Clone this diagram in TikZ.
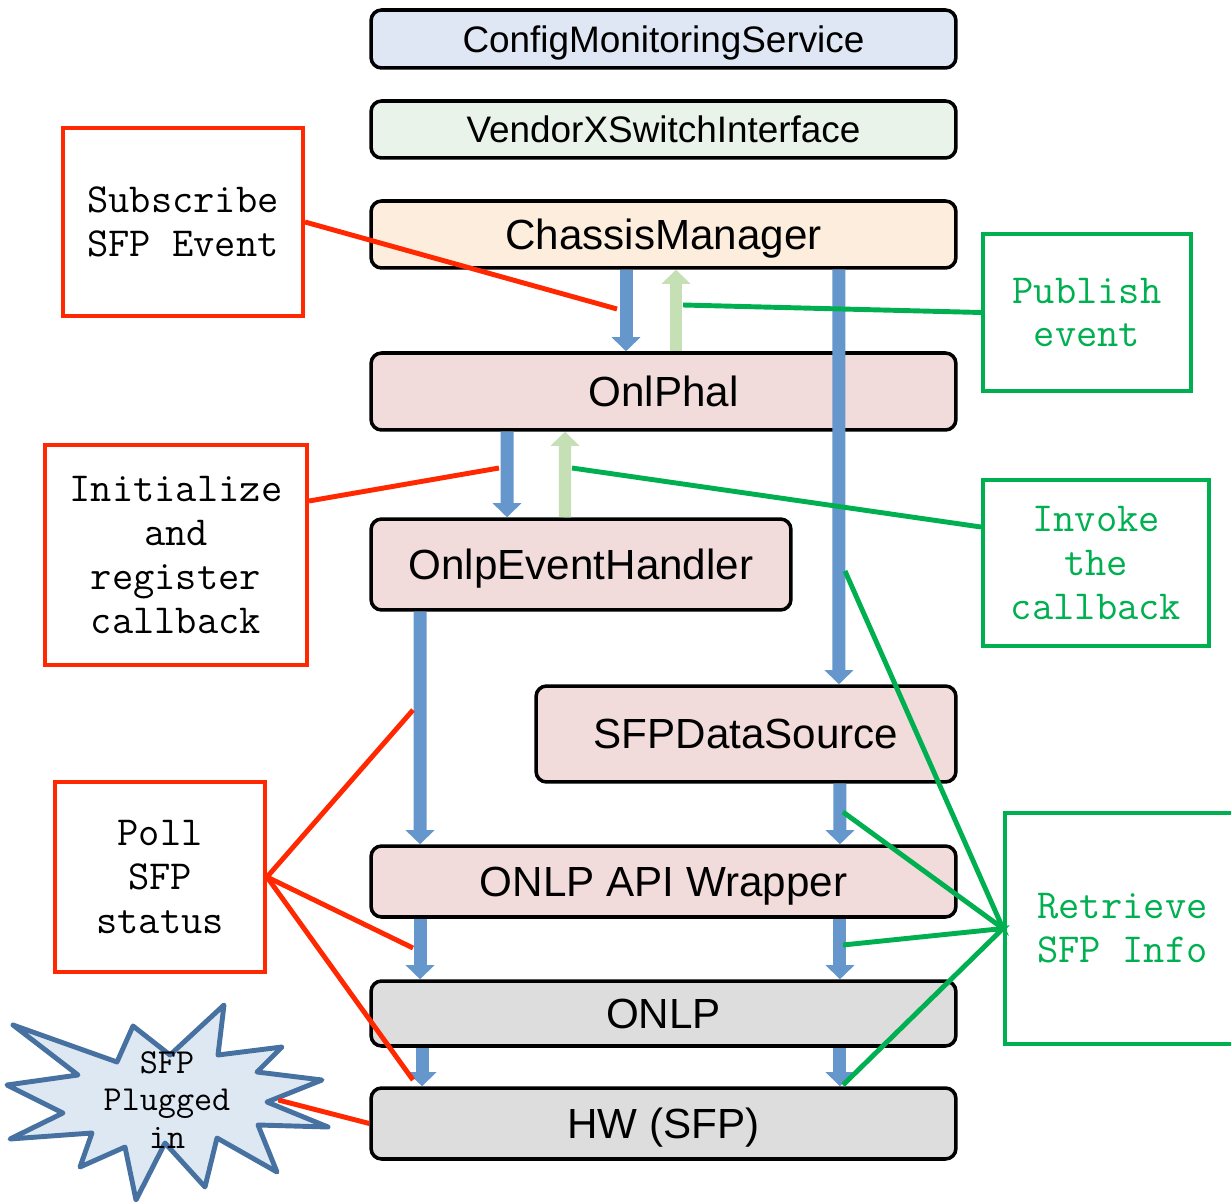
\documentclass[tikz,border=0pt]{standalone}
\usepackage{fontspec}
\usepackage{xcolor}
\setmainfont{Liberation Sans}
\newfontfamily\notefont{Latin Modern Mono}
\usetikzlibrary{arrows.meta}

\definecolor{cfgblue}{RGB}{222,231,243}
\definecolor{vxgreen}{RGB}{233,243,234}
\definecolor{cmorange}{RGB}{253,237,220}
\definecolor{halpink}{RGB}{242,220,219}
\definecolor{hwgrey}{RGB}{221,221,221}
\definecolor{flowblue}{RGB}{101,151,204}
\definecolor{flowgreen}{RGB}{197,224,180}
\definecolor{callred}{RGB}{255,40,0}
\definecolor{callgreen}{RGB}{0,176,80}
\definecolor{burstline}{RGB}{70,113,160}
\definecolor{burstfill}{RGB}{222,232,243}

\tikzset{
  layer/.style={draw=black, line width=2pt, rounded corners=6pt, inner sep=0pt,
    text depth=0pt, minimum width=11.7cm, font=\fontsize{24}{28}\selectfont},
  toplayer/.style={layer, font=\fontsize{21}{25}\selectfont},
  redbox/.style={draw=callred, line width=2.3pt, inner sep=0pt, align=center,
    font=\notefont\fontsize{23.5}{25}\selectfont},
  greenbox/.style={redbox, draw=callgreen, text=callgreen},
  redline/.style={draw=callred, line width=2.8pt},
  greenline/.style={draw=callgreen, line width=2.8pt},
  flowdown/.style={draw=flowblue, line width=7.4pt, -{Triangle[width=16pt,length=8pt]}},
  flowup/.style={draw=flowgreen, line width=7pt, -{Triangle[width=16pt,length=8pt]}},
}

\begin{document}
\begin{tikzpicture}[x=0.02cm, y=-0.02cm]
\useasboundingbox (0,0) rectangle (1231,1202);

% layers
\node [toplayer, fill=cfgblue, minimum height=1.16cm] (cms) at (663.5,39) {ConfigMonitoringService};
\node [toplayer, fill=vxgreen, minimum height=1.14cm] (vxsi) at (663.5,129.5) {VendorXSwitchInterface};
\node [layer, fill=cmorange, minimum height=1.34cm] (chassis) at (663.5,234.5) {ChassisManager};
\node [layer, fill=halpink, minimum height=1.54cm] (phal) at (663.5,391.5) {OnlPhal};
\node [layer, fill=halpink, minimum width=8.4cm, minimum height=1.82cm] (evh) at (581,564.5) {OnlpEventHandler};
\node [layer, fill=halpink, minimum width=8.4cm, minimum height=1.92cm] (sfpds) at (746,734) {SFPDataSource};
\node [layer, fill=halpink, minimum height=1.42cm] (wrap) at (663.5,881.5) {ONLP API Wrapper};
\node [layer, fill=hwgrey, minimum height=1.3cm] (onlp) at (663.5,1013.5) {ONLP};
\node [layer, fill=hwgrey, minimum height=1.42cm] (hw) at (663.5,1123.5) {HW (SFP)};

% calls between layers
\draw [flowdown] ([xshift=-0.75cm]chassis.south) -- ([xshift=-0.75cm]phal.north);
\draw [flowup] ([xshift=0.25cm]phal.north) -- ([xshift=0.25cm]chassis.south);
\draw [flowdown] ([xshift=3.51cm]chassis.south) -- ([xshift=1.86cm]sfpds.north);
\draw [flowdown] ([xshift=-3.13cm]phal.south) -- ([xshift=-1.48cm]evh.north);
\draw [flowup] ([xshift=-0.32cm]evh.north) -- ([xshift=-1.97cm]phal.south);
\draw [flowdown] ([xshift=-3.22cm]evh.south) -- ([xshift=-4.87cm]wrap.north);
\draw [flowdown] ([xshift=1.88cm]sfpds.south) -- ([xshift=3.53cm]wrap.north);
\draw [flowdown] ([xshift=-4.87cm]wrap.south) -- ([xshift=-4.87cm]onlp.north);
\draw [flowdown] ([xshift=3.53cm]wrap.south) -- ([xshift=3.53cm]onlp.north);
\draw [flowdown] ([xshift=-4.83cm]onlp.south) -- ([xshift=-4.83cm]hw.north);
\draw [flowdown] ([xshift=3.53cm]onlp.south) -- ([xshift=3.53cm]hw.north);

% notes
\node [redbox, minimum width=4.8cm, minimum height=3.76cm] (subs) at (183,222) {Subscribe\\SFP Event};
\node [redbox, minimum width=5.24cm, minimum height=4.4cm] (init) at (176,555) {Initialize\\and\\register\\callback};
\node [redbox, minimum width=4.2cm, minimum height=3.8cm] (poll) at (160,877) {Poll\\SFP\\status};
\node [greenbox, minimum width=4.16cm, minimum height=3.14cm] (pub) at (1087,312.5) {Publish\\event};
\node [greenbox, minimum width=4.52cm, minimum height=3.32cm] (inv) at (1096,563) {Invoke\\the\\callback};
\node [greenbox, minimum width=4.7cm, minimum height=4.62cm] (retr) at (1122.5,928.5) {Retrieve\\SFP Info};

% plug event
\draw [draw=burstline, fill=burstfill, line width=2.8pt, line join=round]
  (13,1025) -- (117,1062) -- (133,1026) -- (170,1055) -- (224,1005) -- (218,1055)
  -- (282,1047) -- (257,1072) -- (322,1080) -- (267,1102) -- (328,1127) -- (258,1125)
  -- (277,1172) -- (217,1138) -- (205,1187) -- (165,1143) -- (136,1200) -- (125,1147)
  -- (80,1167) -- (92,1133) -- (10,1139) -- (63,1113) -- (7,1085) -- (78,1075) -- cycle;
\node [align=center, inner sep=0pt, minimum width=4.44cm, font=\notefont\fontsize{20}{21.3}\selectfont] (plug) at (167,1100) {SFP\\Plugged\\in};

\coordinate (subsEnd) at (617,309);
\coordinate (pubEnd) at (683,305);
\coordinate (initEnd) at (499,468);
\coordinate (invEnd) at (572,468);
\coordinate (pollA) at (413,710);
\coordinate (pollB) at (413,948);
\coordinate (pollC) at (413,1080);
\coordinate (retrA) at (845,571);
\coordinate (retrB) at (843,812);
\coordinate (retrC) at (843,945);
\coordinate (retrD) at (843,1085);

\draw [redline] (subs.east) -- (subsEnd);
\draw [greenline] (pub.west) -- (pubEnd);
\draw [redline] ([yshift=1.08cm]init.east) -- (initEnd);
\draw [greenline] ([yshift=0.72cm]inv.west) -- (invEnd);
\draw [redline] (pollA) -- (poll.east) -- (pollB);
\draw [redline] (poll.east) -- (pollC);
\draw [greenline] (retrA) -- (retr.west) -- (retrB);
\draw [greenline] (retrC) -- (retr.west) -- (retrD);
\draw [redline] (plug.east) -- (hw.west);
\end{tikzpicture}
\end{document}
